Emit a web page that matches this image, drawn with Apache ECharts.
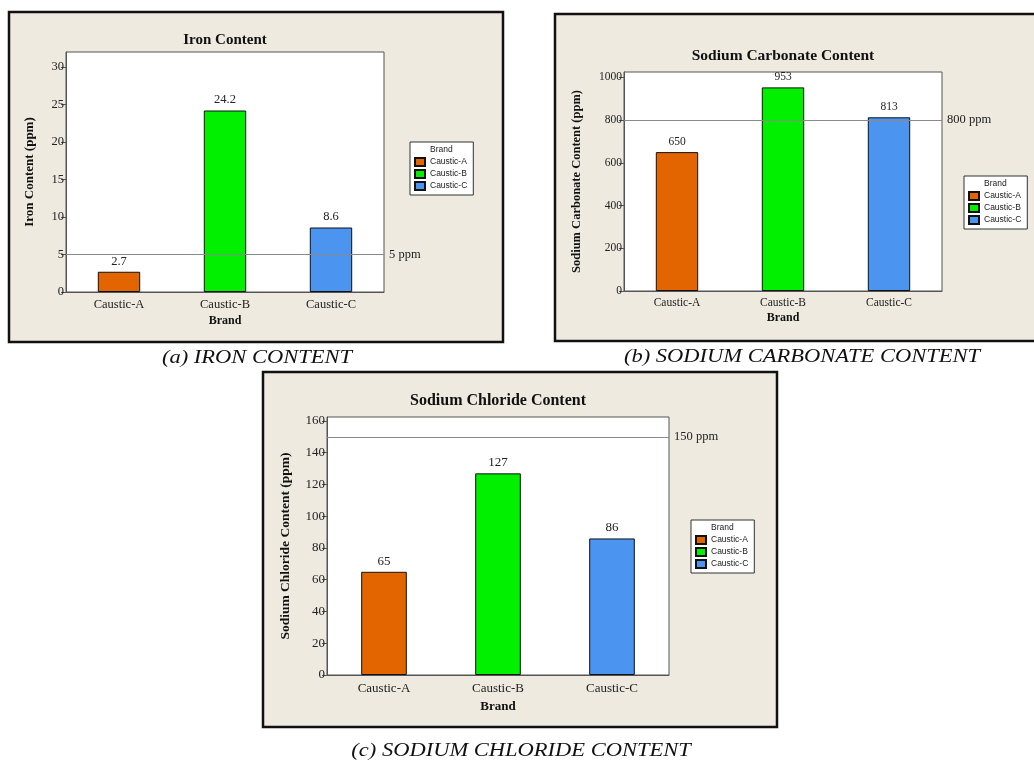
<!DOCTYPE html>
<html><head><meta charset="utf-8">
<script src="https://cdn.jsdelivr.net/npm/echarts@6/dist/echarts.min.js"></script>
<style>html,body{margin:0;padding:0;background:#fff}#c{width:1034px;height:760px}</style>
</head><body><div id="c"></div>
<script>
// ---- data ----
const brands = ['Caustic-A', 'Caustic-B', 'Caustic-C'];
const brandColors = ['#e36500', '#00f000', '#4b94f0'];
const ironValues = [2.7, 24.2, 8.6];
const carbonateValues = [650, 953, 813];
const chlorideValues = [65, 127, 86];
const ironTicks = [0, 5, 10, 15, 20, 25, 30];
const carbonateTicks = [0, 200, 400, 600, 800, 1000];
const chlorideTicks = [0, 20, 40, 60, 80, 100, 120, 140, 160];
const ironLimit = 5, carbonateLimit = 800, chlorideLimit = 150;
const titles = ['Iron Content', 'Sodium Carbonate Content', 'Sodium Chloride Content'];
const yNames = ['Iron Content (ppm)', 'Sodium Carbonate Content (ppm)', 'Sodium Chloride Content (ppm)'];
const captions = ['(a) IRON CONTENT', '(b) SODIUM CARBONATE CONTENT', '(c) SODIUM CHLORIDE CONTENT'];
const xName = 'Brand';
const legendTitle = 'Brand';

// ---- layout ----
const SERIF = "'Liberation Serif','Times New Roman',serif";
const SANS = "'Liberation Sans',Arial,sans-serif";
const panels = [
  { values: ironValues, ticks: ironTicks, limit: ironLimit, max: 32,
    grid: { left: 66, top: 52, width: 318, height: 240 },
    box: [9, 12, 494, 330], titleY: 40, titleFs: 15, caption: [257, 358],
    legend: { left: 410, top: 142 }, yGap: 30, yFs: 13, xGap: 23, xFs: 12, lblMargin: 6, fs: 12.5 },
  { values: carbonateValues, ticks: carbonateTicks, limit: carbonateLimit, max: 1025,
    grid: { left: 624, top: 72, width: 318, height: 219 },
    box: [555, 14, 482, 327], titleY: 56, titleFs: 15.5, caption: [802, 357],
    legend: { left: 964, top: 176 }, yGap: 41, yFs: 12.5, xGap: 21, xFs: 12, lblMargin: 6, fs: 11.5 },
  { values: chlorideValues, ticks: chlorideTicks, limit: chlorideLimit, max: 162.5,
    grid: { left: 327, top: 417, width: 342, height: 258 },
    box: [263, 372, 514, 355], titleY: 401, titleFs: 16, caption: [521, 751],
    legend: { left: 691, top: 520 }, yGap: 34, yFs: 13.5, xGap: 25, xFs: 13, lblMargin: 7, fs: 13 }
];

const option = {
  animation: false,
  backgroundColor: '#fff',
  grid: [], xAxis: [], yAxis: [], series: [], legend: [],
  graphic: { elements: [] }
};

panels.forEach((p, g) => {
  const [bx, by, bw, bh] = p.box;
  option.graphic.elements.push({
    type: 'rect', z: -100, shape: { x: bx, y: by, width: bw, height: bh },
    style: { fill: '#eeeae0', stroke: '#111', lineWidth: 2.5 }, silent: true
  });
  option.graphic.elements.push({
    type: 'text', z: 10, x: p.grid.left + p.grid.width / 2, y: p.titleY,
    style: { text: titles[g], font: 'bold ' + p.titleFs + 'px ' + SERIF, fill: '#111',
      textAlign: 'center', textVerticalAlign: 'middle', align: 'center', verticalAlign: 'middle' }
  });
  option.graphic.elements.push({
    type: 'text', z: 10, x: p.caption[0], y: p.caption[1], scaleX: 1.25,
    style: { text: captions[g], font: 'italic 18px ' + SERIF, fill: '#111',
      textAlign: 'center', textVerticalAlign: 'middle', align: 'center', verticalAlign: 'middle' }
  });

  option.grid.push(Object.assign({ show: true, backgroundColor: '#fff', borderColor: '#555', borderWidth: 1 }, p.grid));
  option.xAxis.push({
    type: 'category', gridIndex: g, data: brands,
    name: xName, nameLocation: 'middle', nameGap: p.xGap,
    nameTextStyle: { fontFamily: SERIF, fontWeight: 'bold', fontSize: p.xFs, color: '#111' },
    axisLine: { lineStyle: { color: '#555', width: 1 } },
    axisTick: { alignWithLabel: true, length: 4, lineStyle: { color: '#555' } },
    axisLabel: { margin: p.lblMargin, fontFamily: SERIF, fontSize: p.fs, color: '#222' }
  });
  option.yAxis.push({
    type: 'value', gridIndex: g, min: 0, max: p.max,
    name: yNames[g], nameLocation: 'middle', nameGap: p.yGap,
    nameTextStyle: { fontFamily: SERIF, fontWeight: 'bold', fontSize: p.yFs, color: '#111' },
    axisLine: { show: true, lineStyle: { color: '#555', width: 1 } },
    axisTick: { show: true, length: 5, customValues: p.ticks, lineStyle: { color: '#555' } },
    axisLabel: { margin: 2, customValues: p.ticks, formatter: v => String(v),
      fontFamily: SERIF, fontSize: p.fs, color: '#222' },
    splitLine: { show: false }
  });
  brands.forEach((b, j) => {
    const s = {
      type: 'bar', name: b, xAxisIndex: g, yAxisIndex: g,
      barWidth: '40%', barGap: '-100%',
      data: p.values.map((v, k) => (k === j ? v : '-')),
      itemStyle: { color: brandColors[j], borderColor: '#111', borderWidth: 1 },
      label: { show: true, position: 'top', distance: 4, fontFamily: SERIF, fontSize: p.fs, color: '#222' }
    };
    if (j === 0) {
      s.markLine = {
        silent: true, symbol: 'none', animation: false,
        lineStyle: { color: '#8a8a8a', type: 'solid', width: 1 },
        label: { show: true, position: 'end', distance: 5, formatter: p.limit + ' ppm',
          fontFamily: SERIF, fontSize: 12.5, color: '#222' },
        data: [{ yAxis: p.limit }]
      };
    }
    option.series.push(s);
  });
  option.legend.push({
    left: p.legend.left, top: p.legend.top, orient: 'vertical',
    data: [{ name: legendTitle, icon: 'none' }].concat(brands.map(n => ({ name: n, icon: 'rect' }))),
    itemWidth: 10, itemHeight: 8, itemGap: 2, selectedMode: false,
    padding: [3, 6, 4, 4], backgroundColor: '#fff', borderColor: '#333', borderWidth: 1,
    textStyle: { fontFamily: SANS, fontSize: 8.5, color: '#222', lineHeight: 10 }
  });
});
// dummy series supplying the legend heading
option.series.push({ type: 'scatter', name: legendTitle, xAxisIndex: 0, yAxisIndex: 0, data: [] });

const chart = echarts.init(document.getElementById('c'));
chart.setOption(option);
</script></body></html>
